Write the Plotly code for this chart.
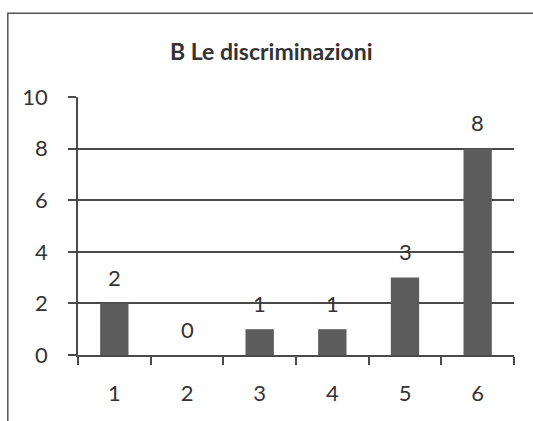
import plotly.graph_objects as go

categories = ["1", "2", "3", "4", "5", "6"]
values = [2, 0, 1, 1, 3, 8]
y_ticks = [0, 2, 4, 6, 8, 10]
title_text = "B Le discriminazioni"

FONT = "Lato, Carlito, Calibri, sans-serif"
INK = "#333333"
BAR = "#5c5c5c"
GRID = "#4a4a4a"

fig = go.Figure()
fig.add_trace(go.Bar(
    x=categories,
    y=values,
    width=0.39,
    marker=dict(color=BAR, line=dict(width=0)),
    showlegend=False,
    hoverinfo="skip",
))

# value labels floating above each bar (category index as x position)
for i, v in enumerate(values):
    fig.add_annotation(
        x=i, y=v, text=str(v), showarrow=False,
        yshift=26, font=dict(family=FONT, size=22, color=INK),
    )

# chart title, centred on the outer frame
fig.add_annotation(
    xref="paper", yref="paper", x=0.443, y=1.18, yanchor="middle",
    text="<b>" + title_text + "</b>", showarrow=False,
    font=dict(family=FONT, size=23, color=INK),
)

# outer chart-area frame (runs past the right and bottom edges)
fig.add_shape(
    type="rect", xref="paper", yref="paper",
    x0=-0.161, x1=1.06, y0=-0.35, y1=1.325,
    line=dict(color="#555555", width=1.5), layer="below",
)

fig.update_layout(
    width=533, height=421,
    margin=dict(l=78, r=19, t=97, b=66),
    paper_bgcolor="white", plot_bgcolor="white",
    xaxis=dict(
        type="category", range=[-0.5, 5.5], showgrid=False,
        showline=True, linecolor=GRID, linewidth=1.5,
        ticks="outside", tickson="boundaries", ticklen=8,
        tickcolor=GRID, tickwidth=1.5,
        tickfont=dict(family=FONT, size=22, color=INK),
        ticklabelstandoff=18,
        zeroline=False,
    ),
    yaxis=dict(
        range=[0, 10], tickvals=y_ticks,
        showgrid=True, gridcolor=GRID, gridwidth=1.5,
        showline=True, linecolor=GRID, linewidth=1.5,
        ticks="outside", ticklen=8, tickcolor=GRID, tickwidth=1.5,
        tickfont=dict(family=FONT, size=22, color=INK),
        ticklabelstandoff=16,
        zeroline=False,
    ),
)

fig.write_html("out.html")
